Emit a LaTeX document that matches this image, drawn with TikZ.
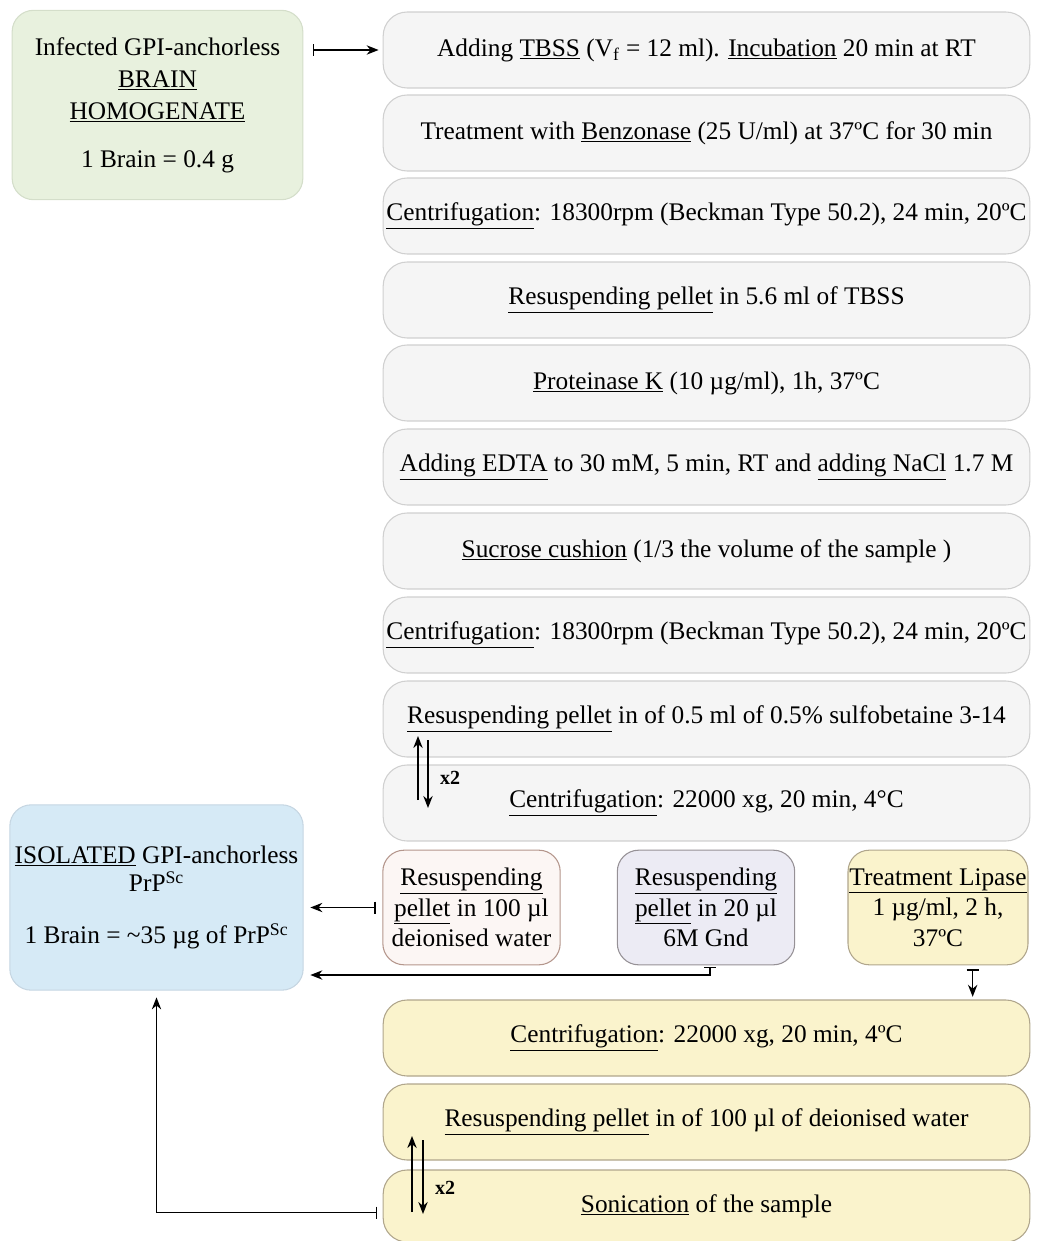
\documentclass[tikz,border=0pt]{standalone}
\usepackage{fontspec}
\setmainfont{Liberation Serif}
\usetikzlibrary{arrows.meta}
\definecolor{gfill}{RGB}{245,245,245}
\definecolor{gdraw}{RGB}{208,208,208}
\definecolor{yfill}{RGB}{250,243,204}
\definecolor{ydraw}{RGB}{176,166,140}
\definecolor{pfill}{RGB}{252,246,244}
\definecolor{pdraw}{RGB}{180,150,140}
\definecolor{lfill}{RGB}{236,235,244}
\definecolor{ldraw}{RGB}{150,145,150}
\definecolor{greenfill}{RGB}{232,241,222}
\definecolor{greendraw}{RGB}{212,222,202}
\definecolor{bluefill}{RGB}{214,234,246}
\definecolor{bluedraw}{RGB}{198,214,226}
\tikzset{
  txt/.style={font=\fontsize{19}{24}\selectfont, align=center, inner sep=0pt},
  wide/.style={txt, rounded corners=18pt, minimum width=485pt, minimum height=57pt},
  graybox/.style={wide, fill=gfill, draw=gdraw, line width=0.8pt},
  yelbox/.style={wide, fill=yfill, draw=ydraw, line width=0.8pt},
  smallbox/.style={txt, font=\fontsize{19}{23}\selectfont, rounded corners=16pt, minimum width=133pt, minimum height=86pt, line width=0.8pt},
  bigbox/.style={txt, rounded corners=16pt, line width=0.8pt},
  conn/.style={line width=1.1pt, -{Stealth[length=9pt,width=7pt]}},
  barconn/.style={line width=1.1pt, {Bar[width=9pt]}-{Stealth[length=9pt,width=7pt]}},
  xtwo/.style={font=\fontsize{15}{18}\selectfont\bfseries, inner sep=0pt}
}
\begin{document}
\begin{tikzpicture}[x=0.75pt, y=-0.75pt]
\useasboundingbox (0,0) rectangle (1039,1241);
% left boxes
\node[bigbox, fill=greenfill, draw=greendraw, minimum width=218pt, minimum height=142pt] (green) at (157.5,105)
  {Infected GPI-anchorless\\ \underline{BRAIN}\\ \underline{HOMOGENATE}\\[12pt] 1 Brain = 0.4 g};
\node[bigbox, fill=bluefill, draw=bluedraw, minimum width=220pt, minimum height=139pt] (blue) at (156.5,897.5)
  {\underline{ISOLATED} GPI-anchorless\\[-3pt] PrP\textsuperscript{Sc}\\[15pt] 1 Brain = \textasciitilde 35 µg of PrP\textsuperscript{Sc}};
% gray steps
\node[graybox] (r1) at (706.5,50) {Adding \underline{TBSS} (V\textsubscript{f} = 12 ml). \underline{Incubation} 20 min at RT};
\node[graybox] (r2) at (706.5,133) {Treatment with \underline{Benzonase} (25 U/ml) at 37ºC for 30 min};
\node[graybox] (r3) at (706.5,216) {\underline{Centrifugation}: 18300rpm (Beckman Type 50.2), 24 min, 20ºC};
\node[graybox] (r4) at (706.5,300) {\underline{Resuspending pellet} in 5.6 ml of TBSS};
\node[graybox] (r5) at (706.5,383) {\underline{Proteinase K} (10 µg/ml), 1h, 37ºC};
\node[graybox] (r6) at (706.5,467) {\underline{Adding EDTA} to 30 mM, 5 min, RT and \underline{adding NaCl} 1.7 M};
\node[graybox] (r7) at (706.5,551) {\underline{Sucrose cushion} (1/3 the volume of the sample )};
\node[graybox] (r8) at (706.5,635) {\underline{Centrifugation}: 18300rpm (Beckman Type 50.2), 24 min, 20ºC};
\node[graybox] (r9) at (706.5,719) {\underline{Resuspending pellet} in of 0.5 ml of 0.5\% sulfobetaine 3-14};
\node[graybox] (r10) at (706.5,803) {\underline{Centrifugation}: 22000 xg, 20 min, 4°C};
% small boxes
\node[smallbox, fill=pfill, draw=pdraw] (pink) at (471.5,907.5) {\underline{Resuspending}\\ \underline{pellet} in 100 µl\\ deionised water};
\node[smallbox, fill=lfill, draw=ldraw] (gnd) at (706,907.5) {\underline{Resuspending}\\ \underline{pellet} in 20 µl\\ 6M Gnd};
\node[smallbox, fill=yfill, draw=ydraw, minimum width=135pt] (lip) at (938,907.5) {\underline{Treatment Lipase}\\ 1 µg/ml, 2 h,\\ 37ºC};
% yellow steps
\node[yelbox] (c2) at (706.5,1038) {\underline{Centrifugation}: 22000 xg, 20 min, 4ºC};
\node[yelbox] (rw) at (706.5,1122) {\underline{Resuspending pellet} in of 100 µl of deionised water};
\node[yelbox, minimum height=54pt] (son) at (706.5,1206) {\underline{Sonication} of the sample};
% connectors
\draw[barconn] ([xshift=7pt]green.east |- r1.west) -- ([xshift=-3pt]r1.west);
\draw[barconn] ([xshift=-5pt]pink.west) -- ([xshift=5pt]blue.east |- pink.west);
\draw[barconn] ([xshift=3pt,yshift=-1pt]gnd.south) -- ([xshift=3pt]gnd.south |- 0,975) -- ([xshift=5pt]blue.east |- 0,975);
\draw[barconn] ([xshift=26pt,yshift=-3pt]lip.south) -- ([xshift=26pt,yshift=2pt]lip.south |- c2.north);
\draw[barconn] ([xshift=-4pt,yshift=-5pt]son.west) -| ([yshift=-5pt]blue.south);
% x2 loops
\coordinate (a1) at (418,800); \coordinate (a2) at (418,736);
\coordinate (b1) at (428,740); \coordinate (b2) at (428,808);
\draw[conn] (a1) -- (a2);
\draw[conn] (b1) -- (b2);
\node[xtwo] (x2a) at (450,778) {x2};
\coordinate (c1) at (412,1212); \coordinate (c3) at (412,1136);
\coordinate (d1) at (423,1140); \coordinate (d2) at (423,1214);
\draw[conn] (c1) -- (c3);
\draw[conn] (d1) -- (d2);
\node[xtwo] (x2b) at (445,1188) {x2};
\end{tikzpicture}
\end{document}
